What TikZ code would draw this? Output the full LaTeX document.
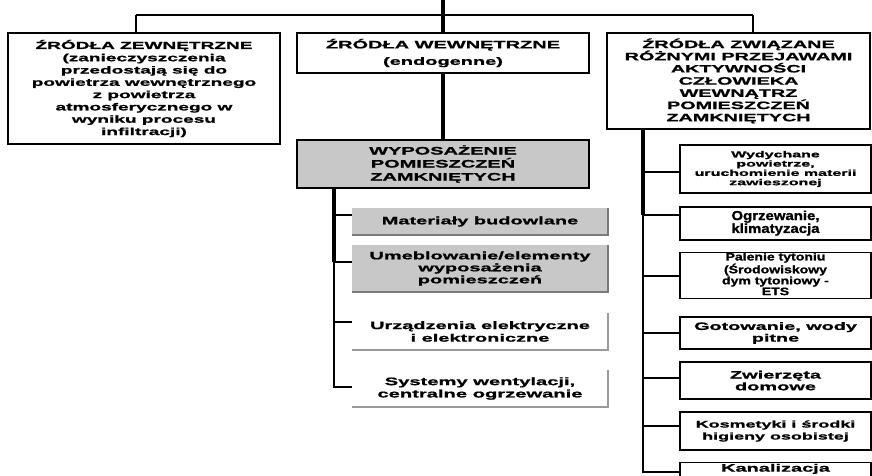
\documentclass[tikz,border=0pt]{standalone}
\usepackage{graphicx}
\usepackage{fontspec}
\setmainfont{Liberation Sans}[FakeBold=1.2]
\newfontfamily\widefont[FakeStretch=1.85,FakeBold=1.2]{Liberation Sans}
\usetikzlibrary{calc}
\newcommand{\fsz}[2]{\fontsize{#1}{#2}\selectfont}
% centred lines, widened horizontally by #1
\newcommand{\hwide}[2]{\scalebox{#1}[1]{\begin{tabular}{@{}c@{}}#2\end{tabular}}}
\definecolor{boxgray}{HTML}{C8C8C8}
\definecolor{edgegray}{HTML}{7A7A7A}
\definecolor{paleedge}{HTML}{9A9A9A}

\begin{document}
\begin{tikzpicture}[x=1pt,y=-1pt,
  box/.style={draw=black, line width=1.3pt, fill=white, align=center,
    inner sep=0pt, text=black},
  graybox/.style={box, fill=boxgray},
  flatbox/.style={fill=boxgray, align=center, inner sep=0pt,
    minimum width=256, text=black},
  plainbox/.style={fill=white, align=center, inner sep=0pt,
    minimum width=256, text=black},
  rsub/.style={box, minimum width=191},
  trunk/.style={line width=4.5pt},
  link/.style={line width=2pt},
  edge shade/.style={draw=edgegray, line width=2pt},
  pale shade/.style={draw=paleedge, line width=1.6pt}
]
\useasboundingbox (0,0) rectangle (872,476);
\clip (0,0) rectangle (872,476);

% --- top level ---------------------------------------------------------
\coordinate (top) at (443,0);
\coordinate (hl) at (136,15);
\coordinate (hr) at (753,15);

\node[box, minimum width=272, minimum height=111,
      font=\widefont\bfseries\fsz{10.3}{12.3}] (ext) at (144,88.5)
  {ŹRÓDŁA ZEWNĘTRZNE\\(zanieczyszczenia\\przedostają się do\\powietrza wewnętrznego\\z powietrza\\atmosferycznego w\\wyniku procesu\\infiltracji)};

\node[box, minimum width=292, minimum height=40,
      font=\widefont\bfseries\fsz{10.8}{16.5}] (int) at (443,53)
  {ŹRÓDŁA WEWNĘTRZNE\\(endogenne)};

\node[box, minimum width=263, minimum height=96,
      font=\widefont\bfseries\fsz{10.7}{12.2}] (act) at (738.5,81)
  {ŹRÓDŁA ZWIĄZANE\\RÓŻNYMI PRZEJAWAMI\\AKTYWNOŚCI\\CZŁOWIEKA\\WEWNĄTRZ\\POMIESZCZEŃ\\ZAMKNIĘTYCH};

\draw[link] (hl) -- (hr);
\draw[link] (hl) -- (hl |- ext.north);
\draw[link] (hr) -- (hr |- act.north);
\draw[line width=3.5pt] (top) -- (int.north);

% --- furnishing branch ---------------------------------------------------
\node[graybox, minimum width=292, minimum height=48,
      font=\widefont\bfseries\fsz{10.8}{13}] (equ) at (443,164)
  {WYPOSAŻENIE\\POMIESZCZEŃ\\ZAMKNIĘTYCH};
\draw[trunk] (int.south) -- (equ.north);

\node[flatbox, minimum height=27, font=\widefont\bfseries\fsz{10.8}{12}] (mat) at (480,221.5)
  {Materiały budowlane};
\node[flatbox, minimum height=47, font=\widefont\bfseries\fsz{10.8}{12}] (fur) at (480,268.5)
  {Umeblowanie/elementy\\wyposażenia\\pomieszczeń};
\node[plainbox, minimum height=37, font=\widefont\bfseries\fsz{10.8}{12.6}] (ele) at (480,331.5)
  {Urządzenia elektryczne\\i elektroniczne};
\node[plainbox, minimum height=37, font=\widefont\bfseries\fsz{10.9}{12.3}] (ven) at (480,388.5)
  {Systemy wentylacji,\\centralne ogrzewanie};

\draw[edge shade] (mat.north east) -- (mat.south east) -- (mat.south west);
\draw[edge shade] (fur.north east) -- (fur.south east) -- (fur.south west);
\draw[pale shade] (ele.north east) -- (ele.south east) -- (ele.south west);
\draw[pale shade] (ven.north east) -- (ven.south east) -- (ven.south west);

\coordinate (lb1) at (334,215);
\coordinate (lb2) at (334,262);
\coordinate (lb3) at (334,322);
\coordinate (lb4) at (334,387);
\draw[trunk] (lb1 |- equ.south) -- (lb2);
\draw[link] (lb2) -- (lb4);
\draw[link] (lb1) -- (lb1 -| mat.west);
\draw[link] (lb2) -- (lb2 -| fur.west);
\draw[link] (lb3) -- (lb3 -| ele.west);
\draw[link] ([xshift=-1pt]lb4) -- (lb4 -| ven.west);

% --- human activity branch -----------------------------------------------
\node[rsub, minimum height=48, font=\widefont\bfseries\fsz{8.65}{9.3}] (exh) at (775.5,169)
  {Wydychane\\powietrze,\\uruchomienie materii\\zawieszonej};
\node[rsub, minimum height=33, font=\bfseries\fsz{13}{11.5}] (hea) at (775.5,223.5)
  {\hwide{1.15}{Ogrzewanie,\\klimatyzacja}};
\node[rsub, minimum height=46, font=\bfseries\fsz{10.8}{10.8}] (smo) at (775.5,275.5)
  {\hwide{1.3}{Palenie tytoniu\\(Środowiskowy\\dym tytoniowy -\\ETS}};
\node[rsub, minimum height=32, font=\widefont\bfseries\fsz{10.7}{11.7}] (coo) at (775.5,333)
  {Gotowanie, wody\\pitne};
\node[rsub, minimum height=37, font=\widefont\bfseries\fsz{10.8}{11.7}] (pet) at (775.5,380.5)
  {Zwierzęta\\domowe};
\node[rsub, minimum height=38, font=\widefont\bfseries\fsz{9.7}{12}] (cos) at (775.5,431)
  {Kosmetyki i środki\\higieny osobistej};
\node[rsub, anchor=north, inner ysep=1pt, text height=8pt, text depth=14pt,
      font=\widefont\bfseries\fsz{10.8}{12}] (sew) at (775.5,462)
  {Kanalizacja};

\coordinate (rb1) at (643,172);
\coordinate (rb2) at (643,215);
\coordinate (rb3) at (643,276);
\coordinate (rb4) at (643,333);
\coordinate (rb5) at (643,378);
\coordinate (rb6) at (643,426);
\coordinate (rb7) at (643,472);
\draw[trunk] (rb1 |- act.south) -- (rb2);
\draw[link] (rb2) -- (rb7);
\draw[link] (rb1) -- (rb1 -| exh.west);
\draw[link] (rb2) -- (rb2 -| hea.west);
\draw[link] (rb3) -- (rb3 -| smo.west);
\draw[link] (rb4) -- (rb4 -| coo.west);
\draw[link] (rb5) -- (rb5 -| pet.west);
\draw[link] (rb6) -- (rb6 -| cos.west);
\draw[link] ([xshift=-1pt]rb7) -- (rb7 -| sew.west);
\end{tikzpicture}
\end{document}
